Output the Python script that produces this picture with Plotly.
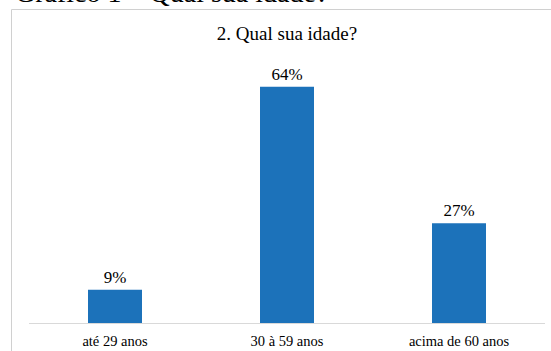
import plotly.graph_objects as go

categories = ["até 29 anos", "30 à 59 anos", "acima de 60 anos"]
values = [9, 64, 27]
chart_title = "2. Qual sua idade?"
caption = "Gráfico 1 – Qual sua idade?"

W, H = 551, 351
L, R, T, B = 29, 6, 50, 28
plot_h = H - T - B
plot_w = W - L - R
ymax = plot_h / 3.69

def px_x(p):
    return (p - L) / plot_w

def px_y(p):
    return (H - B - p) / plot_h

FONT = "Liberation Serif"

fig = go.Figure(
    go.Bar(
        x=categories,
        y=values,
        marker=dict(color="#1C72BA", line=dict(width=0)),
        width=0.314,
        text=[f"{v}%" for v in values],
        textposition="outside",
        textfont=dict(family=FONT, size=17, color="#000000"),
        cliponaxis=False,
    )
)

fig.update_layout(
    width=W,
    height=H,
    margin=dict(l=L, r=R, t=T, b=B),
    paper_bgcolor="white",
    plot_bgcolor="white",
    showlegend=False,
    title=dict(
        text=chart_title,
        x=0.5,
        xref="paper",
        xanchor="center",
        y=1 - 33 / H,
        yref="container",
        yanchor="middle",
        font=dict(family=FONT, size=19, color="#000000"),
    ),
    xaxis=dict(
        range=[-0.5, 2.5],
        automargin=False,
        showgrid=False,
        showline=True,
        linecolor="#D9D9D9",
        linewidth=1,
        ticks="",
        ticklabelstandoff=5,
        tickfont=dict(family=FONT, size=14.5, color="#000000"),
    ),
    yaxis=dict(
        range=[0, ymax],
        automargin=False,
        showgrid=False,
        showticklabels=False,
        zeroline=False,
        showline=False,
    ),
    shapes=[
        dict(
            type="rect",
            xref="paper",
            yref="paper",
            x0=px_x(11.5),
            x1=px_x(W + 20),
            y0=px_y(H + 20),
            y1=px_y(9.5),
            line=dict(color="#D0D0D0", width=1),
            fillcolor="rgba(0,0,0,0)",
            layer="below",
        )
    ],
    annotations=[
        dict(
            text=caption,
            xref="paper",
            yref="paper",
            x=px_x(13),
            xanchor="left",
            y=px_y(-8),
            yanchor="middle",
            showarrow=False,
            font=dict(family=FONT, size=28, color="#000000"),
        )
    ],
)

fig.write_html("out.html")
